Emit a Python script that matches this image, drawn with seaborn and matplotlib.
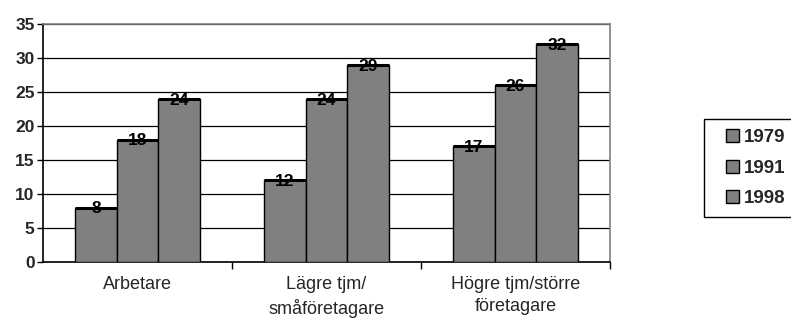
import matplotlib
matplotlib.use("Agg")
import matplotlib.pyplot as plt
from matplotlib.patches import Rectangle
from matplotlib.legend_handler import HandlerPatch
import seaborn as sns
import pandas as pd

categories = ["Arbetare", "Lägre tjm/\nsmåföretagare", "Högre tjm/större\nföretagare"]
years = ["1979", "1991", "1998"]
v1979 = [8, 12, 17]
v1991 = [18, 24, 26]
v1998 = [24, 29, 32]

rows = []
for yr, vals in zip(years, [v1979, v1991, v1998]):
    for c, v in zip(categories, vals):
        rows.append({"cat": c, "year": yr, "value": v})
df = pd.DataFrame(rows)

sns.set_theme(style="white")
plt.rcParams['font.family'] = ['Liberation Sans', 'DejaVu Sans']

fig = plt.figure(figsize=(7.91, 3.2), dpi=100)
ax = fig.add_axes([43/791, 1-262/320, (610-43)/791, (262-24)/320])

sns.barplot(data=df, x="cat", y="value", hue="year", order=categories, hue_order=years,
            palette=["#808080"]*3, width=0.66, edgecolor="black", linewidth=1,
            saturation=1, ax=ax, legend=True, zorder=3)

ax.set_xlim(-0.5, 2.5)
ax.set_ylim(0, 35)
ax.set_yticks(range(0, 36, 5))
ax.yaxis.grid(True, color="black", linewidth=0.9, zorder=0)
ax.set_axisbelow(True)
ax.set_xlabel("")
ax.set_ylabel("")

for p in ax.patches:
    if p.get_height() > 0:
        x0 = p.get_x(); x1 = x0 + p.get_width(); h = p.get_height()
        ax.plot([x0, x1], [h, h], color="black", lw=2.2, zorder=4, solid_capstyle="butt")
        ax.text(x0 + p.get_width()/2, h - 0.2, f"{int(round(h))}", ha="center", va="center",
                fontsize=12.5, fontweight="bold", color="black", zorder=5)

for lab in ax.get_yticklabels():
    lab.set_fontweight("bold")
ax.tick_params(axis="y", labelsize=12.5, length=4, width=1, color="black", direction="out", pad=2, left=True)
ax.tick_params(axis="x", which="major", length=0, labelsize=13, pad=10)
for lab in ax.get_xticklabels():
    lab.set_linespacing(1.4)
ax.set_xticks([0.5, 1.5, 2.5], minor=True)
ax.tick_params(axis="x", which="minor", length=5, width=1, color="black", direction="out", bottom=True)

for s in ["left", "bottom"]:
    ax.spines[s].set_color("black")
    ax.spines[s].set_linewidth(1.2)
for s in ["top", "right"]:
    ax.spines[s].set_color("#808080")
    ax.spines[s].set_linewidth(1.2)


def square_patch(legend, orig_handle, xdescent, ydescent, width, height, fontsize):
    side = height
    return Rectangle(xy=(-xdescent + width - side, -ydescent), width=side, height=side)


handles, labels = ax.get_legend_handles_labels()
ax.get_legend().remove()
leg = fig.legend(handles, labels, loc="upper left", bbox_to_anchor=(704/791, 1-119/320),
                 frameon=True, fancybox=False, edgecolor="black", framealpha=1,
                 prop={"weight": "bold", "size": 13.5}, handlelength=1.3, handleheight=0.7,
                 handletextpad=0.3, labelspacing=0.7, borderpad=0.55, borderaxespad=0,
                 handler_map={Rectangle: HandlerPatch(patch_func=square_patch)})
leg.get_frame().set_linewidth(1)

fig.savefig("out.png", dpi=100)
